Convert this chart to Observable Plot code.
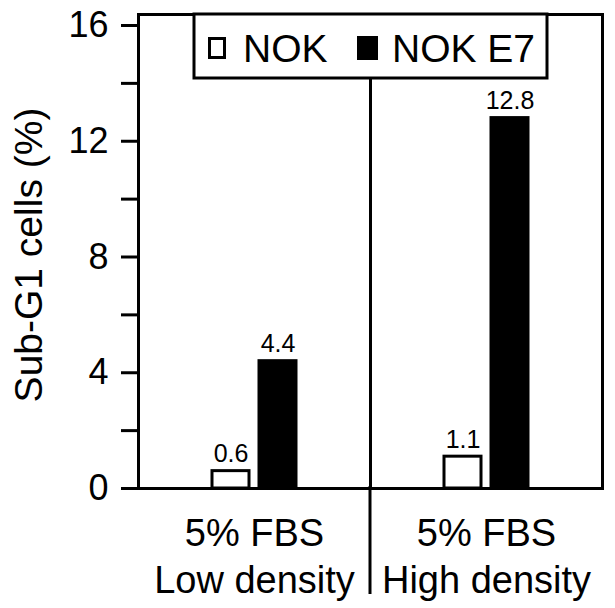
<!DOCTYPE html>
<html>
<head>
<meta charset="utf-8">
<script src="https://cdn.jsdelivr.net/npm/d3@7"></script>
<script src="https://cdn.jsdelivr.net/npm/@observablehq/plot@0.6"></script>
<style>
  html, body { margin: 0; padding: 0; background: white; }
</style>
</head>
<body>
<div id="chart"></div>
<script>
const groups = ["5% FBS\nLow density", "5% FBS\nHigh density"];
const series = ["NOK", "NOK E7"];
const nokValues = [0.6, 1.1];
const nokE7Values = [4.4, 12.8];
const yMajorTicks = [0, 4, 8, 12, 16];
const yMinorTicks = [2, 6, 10, 14];
const yLabel = "Sub-G1 cells (%)";

const data = groups.flatMap((g, i) => [
  {group: g, series: series[0], value: nokValues[i]},
  {group: g, series: series[1], value: nokE7Values[i]}
]);

const font = "'Liberation Sans', Arial, Helvetica, sans-serif";

const chart = Plot.plot({
  width: 615,
  height: 608,
  marginLeft: 137,
  marginRight: 13,
  marginTop: 14,
  marginBottom: 120,
  style: {fontFamily: font, background: "white", color: "black"},
  fx: {domain: groups, padding: 0, label: null},
  x: {domain: series, paddingInner: 0.208, paddingOuter: 1.526, axis: null},
  y: {domain: [0, 16.38], label: null},
  color: {domain: series, range: ["white", "black"]},
  marks: [
    Plot.barY(data, {fx: "group", x: "series", y: "value", fill: "series", stroke: "black", strokeWidth: 3}),
    Plot.text(data, {fx: "group", x: "series", y: "value", text: d => d.value.toFixed(1), lineAnchor: "bottom", dy: -9, fontSize: 25, fill: "black"}),
    Plot.frame({strokeWidth: 3}),
    Plot.axisY({ticks: yMajorTicks, tickSize: 17, tickPadding: 13, fontSize: 36, strokeWidth: 3, label: null}),
    Plot.axisY({ticks: yMinorTicks, tickSize: 17, tickFormat: () => "", strokeWidth: 3, label: null}),
    Plot.axisFx({anchor: "bottom", tickSize: 0, tickPadding: 25, fontSize: 38, lineHeight: 1.22, label: null})
  ]
});

document.getElementById("chart").appendChild(chart);

const svg = d3.select(chart);
const fx = chart.scale("fx");
const boundary = fx.apply(groups[1]);
// divider extension below the axis
svg.append("line")
  .attr("x1", boundary).attr("x2", boundary)
  .attr("y1", 486).attr("y2", 594)
  .attr("stroke", "black").attr("stroke-width", 3);

// y axis title
svg.append("text")
  .attr("transform", "translate(42,255) rotate(-90)")
  .attr("text-anchor", "middle")
  .attr("font-family", font)
  .attr("font-size", 39)
  .attr("fill", "black")
  .text(yLabel);

// legend
const lg = svg.append("g").attr("text-anchor", "start");
lg.append("rect").attr("x", 194).attr("y", 14).attr("width", 353).attr("height", 64)
  .attr("fill", "white").attr("stroke", "black").attr("stroke-width", 3);
lg.append("rect").attr("x", 209.5).attr("y", 38.5).attr("width", 15).attr("height", 19)
  .attr("fill", "white").attr("stroke", "black").attr("stroke-width", 3);
lg.append("text").attr("x", 243).attr("y", 62).attr("text-anchor", "start")
  .attr("font-family", font).attr("font-size", 39)
  .attr("fill", "black").text(series[0]);
lg.append("rect").attr("x", 357).attr("y", 36).attr("width", 21).attr("height", 24)
  .attr("fill", "black");
lg.append("text").attr("x", 392).attr("y", 62).attr("text-anchor", "start")
  .attr("font-family", font).attr("font-size", 39)
  .attr("fill", "black").text(series[1]);
</script>
</body>
</html>
